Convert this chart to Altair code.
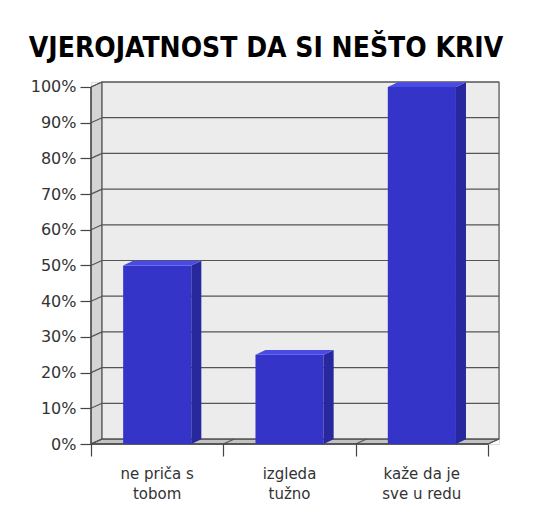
import altair as alt
import pandas as pd

# ---------------- data ----------------
categories = ["ne priča s tobom", "izgleda tužno", "kaže da je sve u redu"]
label_lines = [["ne priča s", "tobom"], ["izgleda", "tužno"], ["kaže da je", "sve u redu"]]
values = [50, 25, 100]
y_ticks = [0, 10, 20, 30, 40, 50, 60, 70, 80, 90, 100]
title_text = "VJEROJATNOST DA SI NEŠTO KRIV"

# ---------------- 3D geometry (in data units) ----------------
N = len(categories)
DX = 11 / 132      # depth offset along x (category units)
DY = 1.4           # depth offset along y (percent units)
BDX = 10 / 132
BDY = 1.3
BAR_L, BAR_R = 0.243, 0.758

W, H = 408, 362
xs = alt.Scale(domain=[0, N + DX], nice=False, zero=False)
ys = alt.Scale(domain=[0, 100 + DY], nice=False, zero=False)

FONT = "DejaVu Sans"
x_axis = alt.Axis(values=list(range(N + 1)), labels=False, tickSize=12, tickColor="#444",
                  tickWidth=1.2, domain=False, grid=False, title="")
y_axis = alt.Axis(values=y_ticks, labelExpr="datum.value + '%'", tickSize=11, tickColor="#444",
                  tickWidth=1.2, domain=False, grid=False, labelFont=FONT, labelFontSize=16,
                  labelColor="#333", labelPadding=4, title="")


def X(f="x"):
    return alt.X(f"{f}:Q", scale=xs, axis=x_axis)


def Y(f="y"):
    return alt.Y(f"{f}:Q", scale=ys, axis=y_axis, stack=None)


def poly(px, lo, hi, fill, stroke=None, sw=1.0):
    df = pd.DataFrame({"px": px, "lo": lo, "hi": hi})
    kw = dict(orient="vertical", fill=fill, interpolate="linear")
    if stroke:
        kw.update(stroke=stroke, strokeWidth=sw)
    return alt.Chart(df).mark_area(**kw).encode(x=X("px"), y=Y("lo"), y2=alt.Y2("hi:Q"))


layers = []

# floor
layers.append(poly([0, DX, N, N + DX], [0, 0, 0, DY], [0, DY, DY, DY], "#c2c2c2", "#555"))
# left side wall
layers.append(poly([0, DX], [0, DY], [100, 100 + DY], "#d4d4d4", "#555"))

# back wall
bwall_df = pd.DataFrame({"x": [DX], "x2": [N + DX], "y": [DY], "y2": [100 + DY]})
layers.append(alt.Chart(bwall_df).mark_rect(fill="#ececec", stroke="#555", strokeWidth=1.2).encode(
    x=X(), x2="x2:Q", y=Y(), y2="y2:Q"))

# grid lines on back wall + diagonals on side wall
grid_df = pd.DataFrame({"x": [DX] * len(y_ticks), "x2": [N + DX] * len(y_ticks),
                        "y": [t + DY for t in y_ticks]})
layers.append(alt.Chart(grid_df).mark_rule(color="#555", strokeWidth=1.2).encode(x=X(), x2="x2:Q", y=Y()))

diag_df = pd.DataFrame({"x": [0] * len(y_ticks), "x2": [DX] * len(y_ticks),
                        "y": y_ticks, "y2": [t + DY for t in y_ticks]})
layers.append(alt.Chart(diag_df).mark_rule(color="#555", strokeWidth=1.2).encode(
    x=X(), x2="x2:Q", y=Y(), y2="y2:Q"))

fdiag_df = pd.DataFrame({"x": list(range(N + 1)), "x2": [i + DX for i in range(N + 1)],
                         "y": [0] * (N + 1), "y2": [DY] * (N + 1)})
layers.append(alt.Chart(fdiag_df).mark_rule(color="#555", strokeWidth=1.2).encode(
    x=X(), x2="x2:Q", y=Y(), y2="y2:Q"))

# front axis lines
vaxis_df = pd.DataFrame({"x": [0], "y": [0], "y2": [100]})
layers.append(alt.Chart(vaxis_df).mark_rule(color="#444", strokeWidth=1.3).encode(x=X(), y=Y(), y2="y2:Q"))
haxis_df = pd.DataFrame({"x": [0], "x2": [N], "y": [0]})
layers.append(alt.Chart(haxis_df).mark_rule(color="#444", strokeWidth=1.3).encode(x=X(), x2="x2:Q", y=Y()))

# bars: front faces
front_df = pd.DataFrame({"x": [i + BAR_L for i in range(N)], "x2": [i + BAR_R for i in range(N)],
                         "y": [0] * N, "y2": values})
layers.append(alt.Chart(front_df).mark_rect(fill="#3434c9").encode(x=X(), x2="x2:Q", y=Y(), y2="y2:Q"))

# bars: side and top faces (one polygon per bar)
for i, v in enumerate(values):
    xl, xr = i + BAR_L, i + BAR_R
    layers.append(poly([xr, xr + BDX], [0, BDY], [v, v + BDY], "#28289e"))
    layers.append(poly([xl, xl + BDX, xr, xr + BDX], [v, v, v, v + BDY], [v, v + BDY, v + BDY, v + BDY],
                       "#4a4ae6"))

# category labels
lab_df = pd.DataFrame({"x": [i + 0.5 for i in range(N)], "label": ["\n".join(l) for l in label_lines]})
layers.append(alt.Chart(lab_df).mark_text(font=FONT, fontSize=15, color="#333", baseline="alphabetic",
                                          align="center", lineBreak="\n", lineHeight=20).encode(
    x=X(), y=alt.value(H + 35), text="label:N"))

# title
title_df = pd.DataFrame({"t": [title_text]})
layers.append(alt.Chart(title_df).mark_text(font="DejaVu Sans Condensed", fontSize=28, fontWeight="bold",
                                            color="black", baseline="alphabetic", align="center").encode(
    x=alt.value(W / 2 - 29), y=alt.value(-25), text="t:N"))

chart = alt.layer(*layers).properties(
    width=W, height=H,
    autosize=alt.AutoSizeParams(type="none"),
    padding={"left": 83, "top": 74, "right": 32, "bottom": 70},
).configure_view(stroke=None).configure(background="white")

chart.save("out.html", embed_options={"renderer": "svg", "actions": False})
